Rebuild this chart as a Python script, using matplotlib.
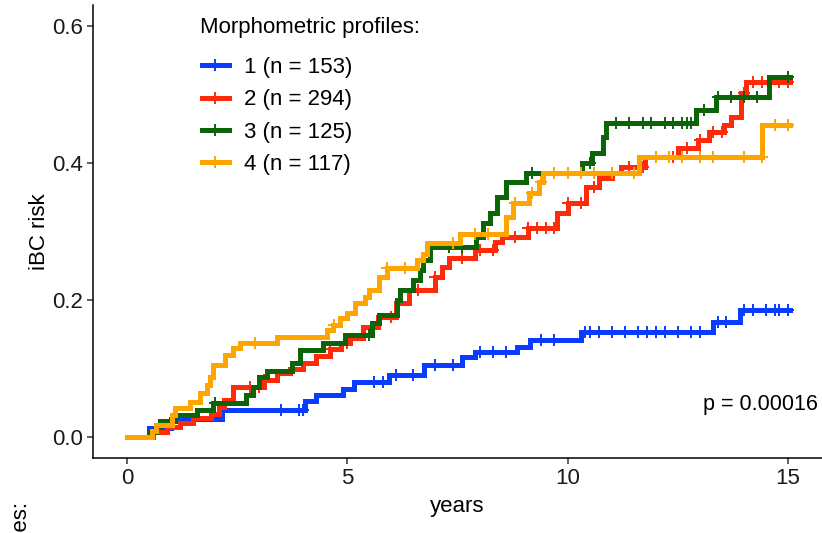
import numpy as np
import matplotlib
matplotlib.use("Agg")
import matplotlib.pyplot as plt
from matplotlib.lines import Line2D

plt.rcParams['font.family'] = ['Liberation Sans', 'DejaVu Sans']

# step curves (time in years, cumulative iBC risk)
t1 = [0, 0.5, 1.0, 2.15, 4.05, 4.3, 4.9, 5.15, 5.95, 6.75, 7.6, 7.9, 8.85, 9.15, 10.3, 13.3, 13.9, 15.05]
s1 = [0, 0.013, 0.026, 0.040, 0.052, 0.061, 0.070, 0.081, 0.091, 0.105, 0.117, 0.124, 0.131, 0.141, 0.153, 0.168, 0.186, 0.186]

t2 = [0, 0.6, 0.9, 1.2, 1.5, 1.9, 2.1, 2.2, 2.4, 3.1, 3.4, 3.7, 4.0, 4.3, 4.6, 4.85, 5.05, 5.35, 5.7, 6.1,
      6.4, 7.0, 7.15, 7.3, 7.9, 8.35, 8.5, 9.1, 9.75, 10.0, 10.42, 10.7, 11.0, 11.2, 11.75, 12.5, 12.95,
      13.2, 13.55, 13.7, 13.93, 14.05, 15.05]
s2 = [0, 0.007, 0.014, 0.020, 0.027, 0.034, 0.044, 0.054, 0.073, 0.083, 0.093, 0.100, 0.108, 0.118, 0.128,
      0.137, 0.145, 0.160, 0.175, 0.195, 0.215, 0.234, 0.248, 0.261, 0.273, 0.285, 0.292, 0.305, 0.327,
      0.342, 0.365, 0.378, 0.385, 0.394, 0.409, 0.422, 0.434, 0.445, 0.455, 0.467, 0.502, 0.518, 0.518]

t3 = [0, 0.52, 0.65, 0.75, 1.1, 1.6, 1.95, 2.7, 2.86, 3.0, 3.17, 3.74, 3.92, 4.45, 4.95, 5.57, 5.73, 6.12,
      6.2, 6.48, 6.64, 6.71, 6.87, 7.93, 8.07, 8.23, 8.4, 8.61, 9.06, 10.33, 10.56, 10.79, 10.88, 12.92,
      13.37, 14.57, 15.05]
s3 = [0, 0.008, 0.016, 0.024, 0.032, 0.040, 0.050, 0.061, 0.073, 0.088, 0.096, 0.108, 0.127, 0.137, 0.149,
      0.166, 0.178, 0.200, 0.215, 0.229, 0.244, 0.258, 0.277, 0.292, 0.312, 0.327, 0.350, 0.372, 0.385,
      0.400, 0.415, 0.438, 0.458, 0.477, 0.497, 0.526, 0.526]

t4 = [0, 0.57, 0.65, 1.02, 1.1, 1.43, 1.65, 1.81, 1.88, 1.95, 2.22, 2.4, 2.56, 3.4, 4.53, 4.67, 4.83, 5.0,
      5.17, 5.4, 5.5, 5.73, 5.89, 6.57, 6.71, 6.8, 7.55, 8.61, 8.75, 9.13, 9.36, 9.43, 11.62, 14.41, 15.05]
s4 = [0, 0.009, 0.018, 0.032, 0.042, 0.051, 0.064, 0.076, 0.088, 0.105, 0.120, 0.130, 0.137, 0.146, 0.156,
      0.163, 0.174, 0.181, 0.196, 0.205, 0.215, 0.234, 0.247, 0.258, 0.268, 0.283, 0.297, 0.321, 0.342,
      0.356, 0.372, 0.385, 0.409, 0.455, 0.455]

# censoring times
c1 = [3.5, 3.9, 4.0, 5.6, 5.8, 6.1, 6.5, 7.0, 7.4, 8.0, 8.3, 8.6, 9.4, 9.7, 10.4, 10.5, 10.7, 11.0, 11.3,
      11.6, 11.8, 12.0, 12.2, 12.5, 12.8, 13.0, 13.4, 13.6, 14.0, 14.2, 14.5, 14.7, 14.8, 15.0]
c2 = [2.8, 3.0, 3.1, 4.6, 5.0, 6.0, 6.6, 7.0, 7.6, 8.0, 8.3, 8.8, 9.1, 9.3, 9.5, 9.7, 10.0, 10.3, 10.6,
      11.0, 11.4, 11.7, 12.0, 12.4, 12.7, 13.0, 13.3, 13.5, 14.0, 14.2, 14.4, 14.6, 14.8, 15.0]
c3 = [2.0, 5.5, 6.9, 7.3, 7.6, 9.2, 10.5, 11.1, 11.4, 11.7, 11.9, 12.2, 12.4, 12.6, 12.7, 12.8, 13.1,
      13.4, 13.7, 14.0, 14.3, 15.0]
c4 = [2.9, 4.7, 5.9, 6.3, 7.4, 7.9, 8.2, 8.8, 9.2, 9.4, 9.7, 10.0, 10.3, 10.6, 11.0, 11.5, 12.0, 12.3,
      12.6, 13.0, 13.3, 14.0, 14.4, 14.7, 15.0]

labels = ["1 (n = 153)", "2 (n = 294)", "3 (n = 125)", "4 (n = 117)"]
colors = ["#0a3cff", "#ff2a0a", "#0b6408", "#ffa500"]


def value_at(t, s, x):
    # value of the step function (right-continuous) at x
    idx = np.searchsorted(t, x, side='right') - 1
    return np.asarray(s)[idx]


fig = plt.figure(figsize=(8.22, 5.33), dpi=100)
ax = fig.add_axes([93 / 822, 75 / 533, 729 / 822, 453 / 533])

curves = [(t1, s1, c1), (t2, s2, c2), (t3, s3, c3), (t4, s4, c4)]
for (t, s, c), col in zip(curves, colors):
    ax.step(t, s, where='post', color=col, lw=3.6, solid_joinstyle='miter')
    ax.plot(c, value_at(t, s, c), ls='none', marker='+', ms=8, mew=1.4, color=col)

ax.set_xlim(-0.77, 15.77)
ax.set_ylim(-0.0307, 0.631)
ax.set_xticks([0, 5, 10, 15])
ax.set_yticks([0.0, 0.2, 0.4, 0.6])
ax.set_yticklabels(["0.0", "0.2", "0.4", "0.6"])
ax.tick_params(labelsize=16, length=4, width=1.1, colors='#333333', labelcolor='#1a1a1a')
for side in ['top', 'right']:
    ax.spines[side].set_visible(False)
for side in ['left', 'bottom']:
    ax.spines[side].set_linewidth(1.1)
ax.set_xlabel("years", fontsize=16, labelpad=5)
ax.set_ylabel("iBC risk", fontsize=16, labelpad=1)

ax.text(0.995, 0.118, "p = 0.00016", transform=ax.transAxes, ha='right', va='center', fontsize=15.5)

# legend: title placed as its own text, entries below
fig.text(200 / 822, 1 - 28 / 533, "Morphometric profiles:", ha='left', va='center', fontsize=16)
handles = [Line2D([], [], color=col, lw=3.6, marker='+', ms=8, mew=1.4) for col in colors]
leg = fig.legend(handles, labels, loc='upper left',
                 bbox_to_anchor=(202 / 822, 1 - 57 / 533), frameon=False, fontsize=16,
                 handlelength=1.2, handletextpad=0.7, labelspacing=0.51,
                 borderpad=0, borderaxespad=0)

# clipped rotated label at the lower-left edge
fig.text(11 / 822, 31 / 533, "Morphometric profiles:", rotation=90, ha='left', va='top', fontsize=16)

fig.savefig("out.png", dpi=100)
